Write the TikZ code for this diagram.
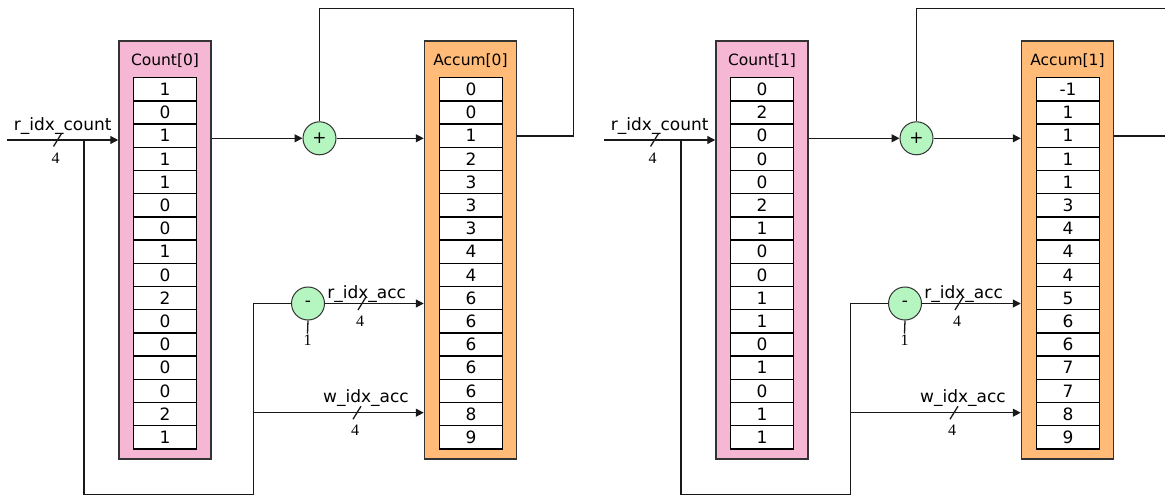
\documentclass[tikz,border=0pt]{standalone}
\usepackage{fontspec}
\setmainfont{DejaVu Sans}
\newfontfamily\numfont{Liberation Serif}
\usetikzlibrary{arrows.meta}
\definecolor{cntpink}{HTML}{F5B7D3}
\definecolor{accorange}{HTML}{FFBB77}
\definecolor{opgreen}{HTML}{B5F5C0}
\tikzset{
  wire/.style={line width=1.3pt, draw=black!90},
  feed/.style={wire, -{Triangle[length=8pt,width=8pt]}},
  memblock/.style={draw=black!80, line width=1.5pt, minimum width=92pt, minimum height=418pt, inner sep=0pt},
  blocktitle/.style={anchor=base, inner sep=0pt, font=\fontsize{15.5}{16}\selectfont},
  cell/.style={draw=black, fill=white, line width=1.3pt, minimum width=63pt, minimum height=23.2pt, inner sep=0pt, font=\fontsize{17}{17}\selectfont},
  op/.style={circle, draw=black!80, fill=opgreen, line width=1pt, minimum size=33pt, inner sep=0pt, font=\fontsize{17}{17}\selectfont},
  sig/.style={anchor=base, inner sep=0pt, font=\fontsize{17}{17}\selectfont},
  buswidth/.style={inner sep=1pt, font=\numfont\fontsize{16}{16}\selectfont},
  pics/bus/.style={code={
    \draw[wire] (4,-6.5) -- (-4,6.5);
    \node[buswidth] (-n) at (-2,18) {#1};
  }}
}
\begin{document}
\begin{tikzpicture}[x=1pt,y=-1pt]
\useasboundingbox (0,0) rectangle (1165,497);
\clip (0,0) rectangle (1165,497);

% two copies of the count / accumulate datapath
\foreach \k/\dx/\cvals/\avals in {
  0/0/{1,0,1,1,1,0,0,1,0,2,0,0,0,0,2,1}/{0,0,1,2,3,3,3,4,4,6,6,6,6,6,8,9},
  1/597/{0,2,0,0,0,2,1,0,0,1,1,0,1,0,1,1}/{-1,1,1,1,1,3,4,4,4,5,6,6,7,7,8,9}}{
\begin{scope}[xshift=\dx pt]
  % memories
  \node[memblock, fill=cntpink] (cnt\k) at (165,250) {};
  \node[blocktitle] (cnt\k-t) at (165,66) {Count[\k]};
  \foreach \v [count=\i] in \cvals
    \node[cell] (cnt\k-\i) at (165,{89.3+23.2*(\i-1)}) {\v};
  \node[memblock, fill=accorange] (acc\k) at (470.5,250) {};
  \node[blocktitle] (acc\k-t) at (470.5,66) {Accum[\k]};
  \foreach \v [count=\i] in \avals
    \node[cell] (acc\k-\i) at (471,{89.3+23.2*(\i-1)}) {\v};

  % adder and decrement
  \node[op] (add\k) at (319.5,138.3) {+};
  \node[op] (sub\k) at (308,303.5) {-};
  \node[buswidth] (one\k) at (307.5,340) {1};

  \coordinate (in\k) at (7,140);
  \coordinate (br\k) at (84,140);
  \coordinate (low\k) at (84,494.5);
  \coordinate (bend\k) at (253.5,494.5);
  \coordinate (tap\k) at (253.5,412.7);
  \coordinate (fbr\k) at (573.3,136);
  \coordinate (fbt\k) at (573.3,8.3);

  \draw[feed] (in\k) -- (in\k -| cnt\k.west);
  \draw[feed] (cnt\k.east |- add\k) -- (add\k.west);
  \draw[feed] (add\k.east) -- (add\k -| acc\k.west);
  \draw[wire] (acc\k.east |- fbr\k) -- (fbr\k) -- (fbt\k) -| (add\k.north);
  \draw[wire] (br\k) -- (low\k) -- (bend\k) -- (bend\k |- sub\k) -- (sub\k.west);
  \draw[feed] (sub\k.east) -- (sub\k -| acc\k.west);
  \draw[feed] (tap\k) -- (tap\k -| acc\k.west);
  \draw[wire] (sub\k.south) -- (one\k.north);

  % signal names and bus widths
  \node[sig] (ric\k) at (62.7,130.7) {r\_idx\_count};
  \node[sig] (ria\k) at (366.7,298.3) {r\_idx\_acc};
  \node[sig] (wia\k) at (366,402.3) {w\_idx\_acc};
  \pic (ricw\k) at (57.5,140) {bus=4};
  \pic (riaw\k) at (362,303.5) {bus=4};
  \pic (wiaw\k) at (357,412.7) {bus=4};
\end{scope}
}
\end{tikzpicture}
\end{document}
